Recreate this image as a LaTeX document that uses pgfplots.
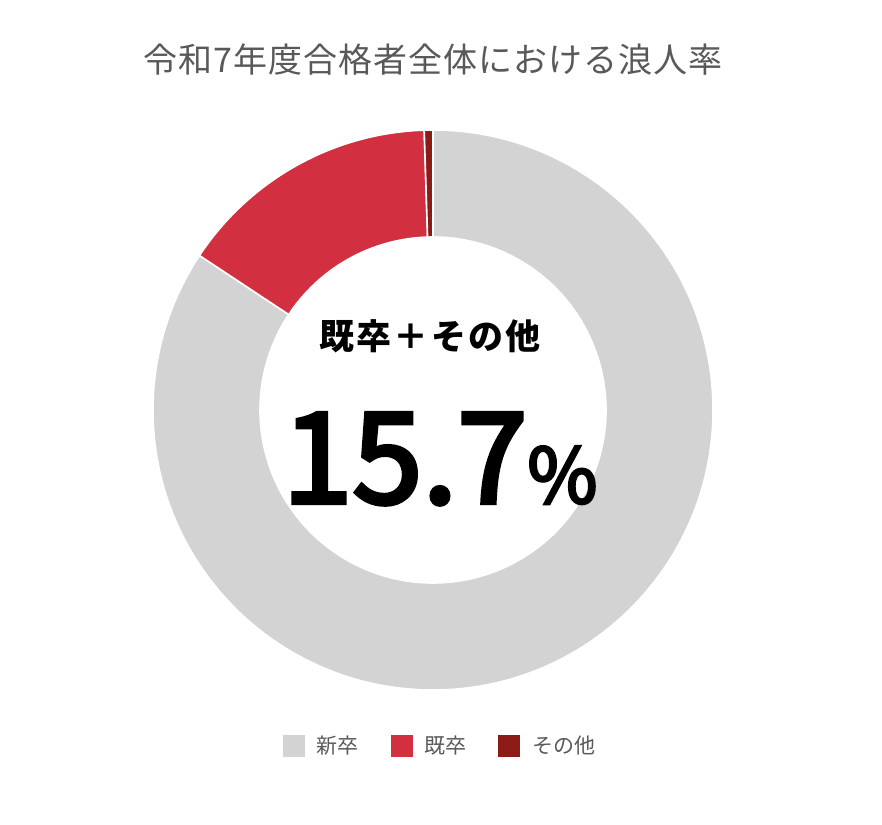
\documentclass[border=0pt]{standalone}
\usepackage{pgfplots}
\pgfplotsset{compat=1.18}
\usepackage{pgfplotstable}
\usepackage{fontspec}
\setmainfont{Noto Sans CJK JP}
\newfontfamily\bignum{Noto Sans CJK JP}[FakeBold=3.5]

\definecolor{shinsotsu}{HTML}{D3D3D3}
\definecolor{kisotsu}{HTML}{D22F40}
\definecolor{sonota}{HTML}{8C1A17}
\definecolor{titlegray}{HTML}{595959}

% shares in percent, clockwise from 12 o'clock
\pgfplotstableread{
label share
shinsotsu 84.3
kisotsu 15.2
sonota 0.5
}\shares

\pgfplotstablegetelem{0}{share}\of\shares \let\sA\pgfplotsretval
\pgfplotstablegetelem{1}{share}\of\shares \let\sB\pgfplotsretval
\pgfplotstablegetelem{2}{share}\of\shares \let\sC\pgfplotsretval
\pgfmathsetmacro\aO{90}
\pgfmathsetmacro\aA{\aO-3.6*\sA}
\pgfmathsetmacro\aB{\aA-3.6*\sB}
\pgfmathsetmacro\aC{\aB-3.6*\sC}

% ring slice: start angle, end angle, colour (centre 433,414; 1 unit = 0.5pt)
\newcommand\slice[3]{%
  \fill[#3, draw=white, line width=0.8pt]
    (axis cs:{433+280*cos(#1)},{414+280*sin(#1)})
    arc[start angle=#1, end angle=#2, radius=140pt]
    -- (axis cs:{433+173*cos(#2)},{414+173*sin(#2)})
    arc[start angle=#2, end angle=#1, radius=86.5pt] -- cycle;}

\begin{document}
\begin{tikzpicture}
\path[use as bounding box] (0,0) rectangle (441pt,412pt);
\begin{axis}[
  at={(0,0)}, anchor=south west,
  scale only axis, width=441pt, height=412pt,
  xmin=0, xmax=882, ymin=0, ymax=824,
  hide axis, clip=false,
  legend columns=-1,
  legend style={at={(axis cs:440,78)}, anchor=center, draw=none,
    font=\fontsize{10.5}{12}\selectfont, text=titlegray,
    /tikz/every even column/.append style={column sep=15pt},
    nodes={inner sep=1pt}},
  legend cell align=left,
]
\addlegendimage{legend image code/.code={\fill[shinsotsu] (0pt,-5.25pt) rectangle (10.5pt,5.25pt);}}
\addlegendentry{\hspace{5pt}新卒}
\addlegendimage{legend image code/.code={\fill[kisotsu] (0pt,-5.25pt) rectangle (10.5pt,5.25pt);}}
\addlegendentry{\hspace{5pt}既卒}
\addlegendimage{legend image code/.code={\fill[sonota] (0pt,-5.25pt) rectangle (10.5pt,5.25pt);}}
\addlegendentry{\hspace{5pt}その他}

\slice{\aO}{\aA}{shinsotsu}
\slice{\aA}{\aB}{kisotsu}
\slice{\aB}{\aC}{sonota}

\node[text=titlegray, font=\fontsize{17}{20}\selectfont\addfontfeatures{LetterSpace=3}]
  at (axis cs:433,764) {令和7年度合格者全体における浪人率};
\node[font=\fontsize{17.5}{20}\bfseries\selectfont\addfontfeatures{LetterSpace=6}]
  at (axis cs:430,488) {既卒＋その他};
\node[anchor=base, inner sep=0pt, font=\bignum]
  at (axis cs:440,321) {\fontsize{63}{70}\selectfont 15.7\fontsize{38}{50}\selectfont\%};
\end{axis}
\end{tikzpicture}
\end{document}
